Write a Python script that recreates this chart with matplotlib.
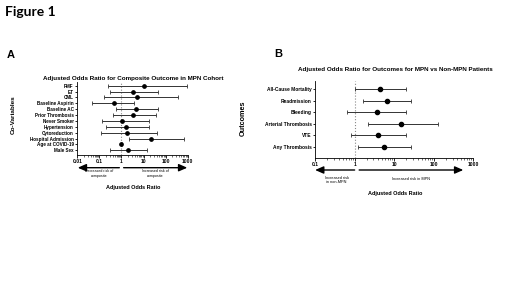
import matplotlib
matplotlib.use("Agg")
import matplotlib.pyplot as plt
import matplotlib.transforms as mtransforms
from matplotlib.ticker import LogLocator, FixedLocator, FixedFormatter, NullFormatter

plt.rcParams['font.family'] = ['Liberation Sans', 'DejaVu Sans']
plt.rcParams['font.weight'] = 'bold'

# Panel A: composite outcome in MPN cohort
covariables = ['PMF', 'ET', 'CML', 'Baseline Aspirin', 'Baseline AC', 'Prior Thrombosis',
               'Never Smoker', 'Hypertension', 'Cytoreduction', 'Hospital Admission',
               'Age at COVID-19', 'Male Sex']
or_a = [10.7, 3.2, 5.0, 0.45, 4.5, 3.5, 1.03, 1.6, 1.8, 21.0, 1.0, 1.9]
low_a = [0.24, 0.29, 0.16, 0.048, 0.55, 0.42, 0.135, 0.19, 0.12, 2.3, 0.97, 0.29]
high_a = [930, 46, 370, 3.6, 46, 37, 17, 17, 40, 650, 1.06, 15]

# Panel B: MPN vs non-MPN
outcomes = ['All-Cause Mortality', 'Readmission', 'Bleeding', 'Arterial Thrombosis', 'VTE', 'Any Thrombosis']
or_b = [4.5, 6.7, 3.7, 14.5, 4.0, 5.5]
low_b = [1.0, 1.6, 0.64, 2.2, 0.82, 1.2]
high_b = [19.6, 26.6, 19.6, 126, 19.6, 26.6]

ticks_a = [0.01, 0.1, 1, 10, 100, 1000]
ticks_b = [0.1, 1, 10, 100, 1000]

fig = plt.figure(figsize=(5.2, 2.92), dpi=100)


def fy(py):
    return 1 - py / 292.0


def fx(px):
    return px / 520.0


fig.text(fx(5), fy(12), 'Figure 1', fontsize=10, family=['Lato', 'DejaVu Sans'], fontweight='bold', va='center')

axA = fig.add_axes([0.1487, 0.469, 0.2123, 0.250])
axB = fig.add_axes([0.606, 0.459, 0.304, 0.2637])


def forest(ax, labels, est, lo, hi, ticks, pad_top, pad_bot, lab_size, msize, cap):
    y = list(range(len(labels)))
    xerr = [[e - l for e, l in zip(est, lo)], [h - e for e, h in zip(est, hi)]]
    ax.errorbar(est, y, xerr=xerr, fmt='o', color='black', ecolor='#333333',
                elinewidth=0.7, capsize=cap, capthick=0.6, markersize=msize, zorder=3)
    ax.set_xscale('log')
    ax.set_xlim(ticks[0], ticks[-1])
    ax.set_ylim(len(labels) - 1 + pad_bot, -pad_top)
    ax.axvline(1, color='#888888', linestyle=':', linewidth=0.8, zorder=1)
    ax.set_yticks(y)
    ax.set_yticklabels(labels, fontsize=lab_size, fontweight='bold')
    ax.xaxis.set_major_locator(FixedLocator(ticks))
    ax.xaxis.set_major_formatter(FixedFormatter([('%g' % t) for t in ticks]))
    ax.xaxis.set_minor_locator(LogLocator(base=10, subs=range(2, 10)))
    ax.xaxis.set_minor_formatter(NullFormatter())
    ax.tick_params(axis='x', which='major', labelsize=3.6, length=1.8, width=0.6, pad=1.2)
    ax.tick_params(axis='x', which='minor', length=1.1, width=0.4)
    ax.tick_params(axis='y', length=1.8, width=0.6, pad=0.8)
    for lab in ax.get_xticklabels():
        lab.set_fontweight('bold')
    for s in ['top', 'right']:
        ax.spines[s].set_visible(False)
    for s in ['left', 'bottom']:
        ax.spines[s].set_linewidth(0.6)


forest(axA, covariables, or_a, low_a, high_a, ticks_a, 0.63, 0.8, 3.3, 2.4, 1.3)
forest(axB, outcomes, or_b, low_b, high_b, ticks_b, 0.7, 0.95, 3.5, 3.0, 1.6)

fig.text(fx(7), fy(55), 'A', fontsize=8, fontweight='bold', va='center', ha='left')
fig.text(fx(278), fy(54), 'B', fontsize=8, fontweight='bold', va='center', ha='center')
fig.text(fx(133), fy(78.5), 'Adjusted Odds Ratio for Composite Outcome in MPN Cohort',
         fontsize=4.5, fontweight='bold', ha='center', va='center')
fig.text(fx(395), fy(69.5), 'Adjusted Odds Ratio for Outcomes for MPN vs Non-MPN Patients',
         fontsize=4.5, fontweight='bold', ha='center', va='center')
fig.text(fx(13), fy(115), 'Co-Variables', fontsize=4.6, fontweight='bold', rotation=90, ha='center', va='center')
fig.text(fx(243), fy(118), 'Outcomes', fontsize=5.2, fontweight='bold', rotation=90, ha='center', va='center')
fig.text(fx(133), fy(188), 'Adjusted Odds Ratio', fontsize=4, fontweight='bold', ha='center', va='center')
fig.text(fx(395), fy(194), 'Adjusted Odds Ratio', fontsize=4, fontweight='bold', ha='center', va='center')

# direction arrows below each axis
arrow = dict(arrowstyle='-|>,head_length=0.5,head_width=0.22', color='black', lw=1.0,
             shrinkA=0, shrinkB=0)
trA = mtransforms.blended_transform_factory(axA.transData, fig.transFigure)
axA.annotate('', xy=(0.0105, fy(167.7)), xytext=(0.8, fy(167.7)), xycoords=trA, textcoords=trA,
             arrowprops=arrow, annotation_clip=False)
axA.annotate('', xy=(950, fy(167.7)), xytext=(1.25, fy(167.7)), xycoords=trA, textcoords=trA,
             arrowprops=arrow, annotation_clip=False)
axA.text(0.1, fy(173.5), 'Decreased risk of\ncomposite', transform=trA, fontsize=2.6,
         fontweight='normal', ha='center', va='center', linespacing=1.0)
axA.text(33, fy(173.5), 'Increased risk of\ncomposite', transform=trA, fontsize=2.6,
         fontweight='normal', ha='center', va='center', linespacing=1.0)

trB = mtransforms.blended_transform_factory(axB.transData, fig.transFigure)
axB.annotate('', xy=(0.1, fy(170)), xytext=(1.0, fy(170)), xycoords=trB, textcoords=trB,
             arrowprops=arrow, annotation_clip=False)
axB.annotate('', xy=(560, fy(170)), xytext=(1.3, fy(170)), xycoords=trB, textcoords=trB,
             arrowprops=arrow, annotation_clip=False)
axB.text(0.35, fy(180), 'Increased risk\nin non-MPN', transform=trB, fontsize=2.8,
         fontweight='normal', ha='center', va='center', linespacing=1.1)
axB.text(27, fy(179), 'Increased risk in MPN', transform=trB, fontsize=2.8,
         fontweight='normal', ha='center', va='center')

fig.savefig('out.png', dpi=100)
